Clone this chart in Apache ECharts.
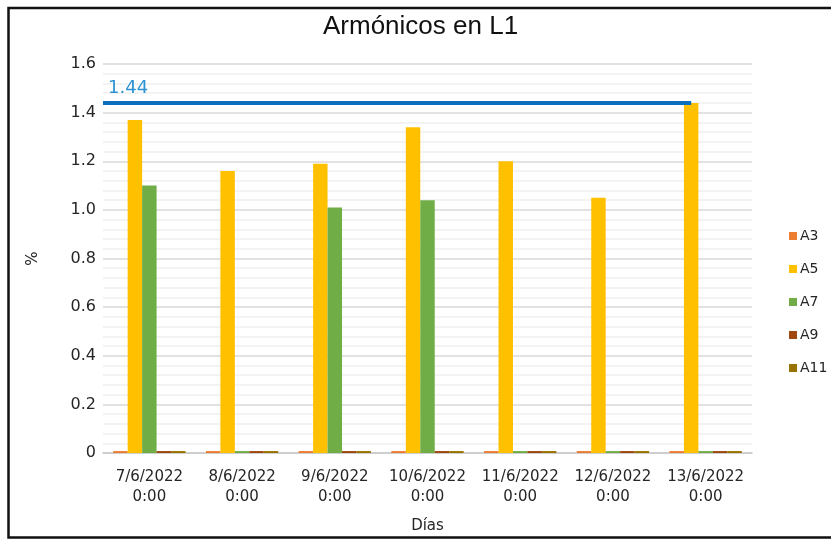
<!DOCTYPE html>
<html>
<head>
<meta charset="utf-8">
<title>Armónicos en L1</title>
<script src="https://cdn.jsdelivr.net/npm/echarts@6/dist/echarts.min.js"></script>
<style>
  html, body { margin: 0; padding: 0; background: #ffffff; }
  #chart { width: 831px; height: 539px; }
</style>
</head>
<body>
<div id="chart"></div>
<script>
// Daily harmonic distortion readings (%) for phase L1
const DAYS = ['7/6/2022\n0:00', '8/6/2022\n0:00', '9/6/2022\n0:00', '10/6/2022\n0:00',
              '11/6/2022\n0:00', '12/6/2022\n0:00', '13/6/2022\n0:00'];
const A3  = [0.008, 0.008, 0.008, 0.008, 0.008, 0.008, 0.008];
const A5  = [1.37, 1.16, 1.19, 1.34, 1.20, 1.05, 1.44];
const A7  = [1.10, 0.008, 1.01, 1.04, 0.008, 0.008, 0.008];
const A9  = [0.008, 0.008, 0.008, 0.008, 0.008, 0.008, 0.008];
const A11 = [0.008, 0.008, 0.008, 0.008, 0.008, 0.008, 0.008];
const Y_TICKS = [0, 0.2, 0.4, 0.6, 0.8, 1.0, 1.2, 1.4, 1.6];

const GRID_LEFT = 103;
const FONT = 'DejaVu Sans, Verdana, sans-serif';
const TEXT = '#262626';

const chart = echarts.init(document.getElementById('chart'), null, { renderer: 'canvas' });

function barSeries(name, values, color, extra) {
  return Object.assign({
    name: name,
    type: 'bar',
    data: values,
    barGap: '0%',
    barCategoryGap: '22%',
    itemStyle: { color: color },
    emphasis: { disabled: true }
  }, extra || {});
}

const option = {
  animation: false,
  backgroundColor: '#ffffff',
  textStyle: { fontFamily: FONT },
  title: {
    text: 'Armónicos en L1',
    left: 318,
    top: 9,
    textStyle: { fontFamily: 'Liberation Sans, Arial, sans-serif', fontSize: 26, fontWeight: 'normal', color: '#111111' }
  },
  legend: {
    orient: 'vertical',
    left: 784,
    top: 224,
    itemWidth: 8,
    itemHeight: 8,
    itemGap: 19,
    icon: 'rect',
    textStyle: { fontFamily: FONT, fontSize: 14, color: TEXT, padding: [0, 0, 0, -2] },
    data: ['A3', 'A5', 'A7', 'A9', 'A11']
  },
  grid: { left: GRID_LEFT, right: 79, top: 64, bottom: 86, containLabel: false, outerBoundsMode: 'none' },
  xAxis: {
    type: 'category',
    data: DAYS,
    name: 'Días',
    nameLocation: 'middle',
    nameGap: 66,
    nameTextStyle: { fontFamily: FONT, fontSize: 15, color: TEXT },
    axisLine: { show: true, lineStyle: { color: '#c8c8c8', width: 1.5 } },
    axisTick: { show: false },
    axisLabel: { fontFamily: FONT, fontSize: 15, color: TEXT, lineHeight: 20, margin: 14, interval: 0 }
  },
  yAxis: {
    type: 'value',
    min: Y_TICKS[0],
    max: Y_TICKS[Y_TICKS.length - 1],
    interval: Y_TICKS[1] - Y_TICKS[0],
    name: '%',
    nameLocation: 'middle',
    nameGap: 62,
    nameRotate: 90,
    nameTextStyle: { fontFamily: FONT, fontSize: 15, color: TEXT },
    axisLine: { show: false },
    axisTick: { show: false },
    axisLabel: {
      fontFamily: FONT, fontSize: 16, color: TEXT, margin: 7,
      formatter: v => (v === 0 ? '0' : v.toFixed(1))
    },
    splitLine: { show: true, lineStyle: { color: '#d9d9d9', width: 1.5 } },
    minorTick: { show: false, splitNumber: 5 },
    minorSplitLine: { show: true, lineStyle: { color: '#efefef', width: 1.5 } }
  },
  series: [
    barSeries('A3', A3, '#ED7D31'),
    barSeries('A5', A5, '#FFC000', {
      markLine: {
        silent: true,
        symbol: ['none', 'none'],
        animation: false,
        lineStyle: { color: '#0A70BD', width: 4, type: 'solid' },
        label: {
          show: true,
          position: 'insideStartTop',
          distance: [5, 6],
          fontFamily: FONT,
          fontSize: 18,
          color: '#2E93D3',
          formatter: () => Math.max(...A5).toFixed(2)
        },
        emphasis: { disabled: true },
        data: [[
          { x: GRID_LEFT, yAxis: Math.max(...A5) },
          { type: 'max' }
        ]]
      }
    }),
    barSeries('A7', A7, '#70AD47'),
    barSeries('A9', A9, '#9E480E'),
    barSeries('A11', A11, '#997300')
  ],
  graphic: [{
    type: 'rect',
    silent: true,
    shape: { x: 8.5, y: 8, width: 840, height: 529.5 },
    style: { fill: 'none', stroke: '#111111', lineWidth: 2.5 },
    z: 100
  }]
};

chart.setOption(option);
</script>
</body>
</html>
